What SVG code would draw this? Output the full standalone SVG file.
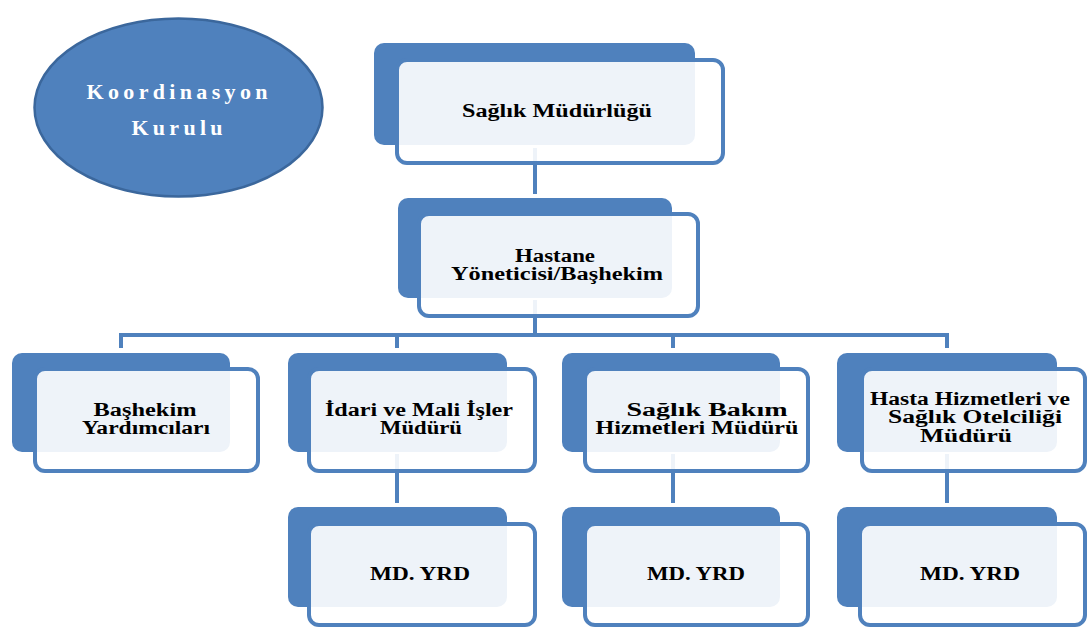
<svg xmlns="http://www.w3.org/2000/svg" width="1088" height="633" viewBox="0 0 1088 633">
<style>
.back{fill:#4F81BD}
.front{fill:#FFFFFF;fill-opacity:0.9;stroke:#4F81BD;stroke-width:4}
.conn{fill:none;stroke:#4F81BD;stroke-width:4}
.t{font-family:"Liberation Serif","Times New Roman",serif;font-weight:bold;font-size:18px;fill:#000000;text-anchor:middle}
.w{font-family:"Liberation Serif","Times New Roman",serif;font-weight:bold;font-size:22px;fill:#FFFFFF;text-anchor:middle}
</style>
<rect width="1088" height="633" fill="#FFFFFF"/>
<g id="connectors">
<path class="conn" d="M535 148 V194"/>
<path class="conn" d="M535 300 V335"/>
<path class="conn" d="M121 348 V335 H947 V348"/>
<path class="conn" d="M397 335 V348"/>
<path class="conn" d="M673 335 V348"/>
<path class="conn" d="M397 454 V503"/>
<path class="conn" d="M673 454 V503"/>
<path class="conn" d="M947 454 V503"/>
</g>
<g id="koordinasyon">
<ellipse cx="178.5" cy="107.5" rx="144" ry="89" fill="#4F81BD" stroke="#3B679C" stroke-width="2.5"/>
<text class="w" x="177" y="99" textLength="181" lengthAdjust="spacing">Koordinasyon</text>
<text class="w" x="177" y="135" textLength="91" lengthAdjust="spacing">Kurulu</text>
</g>
<g id="saglik-mudurlugu">
<rect class="back" x="374" y="43" width="321" height="102" rx="10"/>
<rect class="front" x="397" y="60" width="326" height="103" rx="10"/>
<text class="t" x="557" y="117" font-size="19" textLength="190" lengthAdjust="spacingAndGlyphs">Sağlık Müdürlüğü</text>
</g>
<g id="hastane-yoneticisi">
<rect class="back" x="398" y="198" width="274" height="100" rx="10"/>
<rect class="front" x="419" y="214" width="279" height="102" rx="10"/>
<text class="t" x="555" y="262" font-size="19" textLength="80" lengthAdjust="spacingAndGlyphs">Hastane</text>
<text class="t" x="557" y="280" font-size="19" textLength="212" lengthAdjust="spacingAndGlyphs">Yöneticisi/Başhekim</text>
</g>
<g id="bashekim-yardimcilari">
<rect class="back" x="12" y="353" width="218" height="99" rx="10"/>
<rect class="front" x="35" y="369" width="223" height="102" rx="10"/>
<text class="t" x="145" y="416" textLength="103" lengthAdjust="spacingAndGlyphs">Başhekim</text>
<text class="t" x="146" y="434" textLength="128" lengthAdjust="spacingAndGlyphs">Yardımcıları</text>
</g>
<g id="idari-mali">
<rect class="back" x="288" y="353" width="219" height="99" rx="10"/>
<rect class="front" x="309" y="369" width="226" height="102" rx="10"/>
<text class="t" x="419" y="416" textLength="188" lengthAdjust="spacingAndGlyphs">İdari ve Mali İşler</text>
<text class="t" x="421" y="434" textLength="82" lengthAdjust="spacingAndGlyphs">Müdürü</text>
</g>
<g id="saglik-bakim">
<rect class="back" x="562" y="353" width="218" height="99" rx="10"/>
<rect class="front" x="585" y="369" width="223" height="102" rx="10"/>
<text class="t" x="707" y="416" textLength="161" lengthAdjust="spacingAndGlyphs">Sağlık Bakım</text>
<text class="t" x="697" y="434" textLength="203" lengthAdjust="spacingAndGlyphs">Hizmetleri Müdürü</text>
</g>
<g id="hasta-hizmetleri">
<rect class="back" x="837" y="353" width="220" height="99" rx="10"/>
<rect class="front" x="862" y="369" width="223" height="102" rx="10"/>
<text class="t" x="970" y="405" textLength="200" lengthAdjust="spacingAndGlyphs">Hasta Hizmetleri ve</text>
<text class="t" x="975" y="423" textLength="174" lengthAdjust="spacingAndGlyphs">Sağlık Otelciliği</text>
<text class="t" x="966" y="442" textLength="92" lengthAdjust="spacingAndGlyphs">Müdürü</text>
</g>
<g id="md-yrd-1">
<rect class="back" x="288" y="507" width="219" height="100" rx="10"/>
<rect class="front" x="309" y="524" width="226" height="101" rx="10"/>
<text class="t" x="420" y="580" textLength="100" lengthAdjust="spacingAndGlyphs">MD. YRD</text>
</g>
<g id="md-yrd-2">
<rect class="back" x="562" y="507" width="218" height="100" rx="10"/>
<rect class="front" x="585" y="524" width="223" height="101" rx="10"/>
<text class="t" x="696" y="580" textLength="98" lengthAdjust="spacingAndGlyphs">MD. YRD</text>
</g>
<g id="md-yrd-3">
<rect class="back" x="837" y="507" width="220" height="100" rx="10"/>
<rect class="front" x="860" y="524" width="225" height="101" rx="10"/>
<text class="t" x="970" y="580" textLength="100" lengthAdjust="spacingAndGlyphs">MD. YRD</text>
</g>
</svg>
